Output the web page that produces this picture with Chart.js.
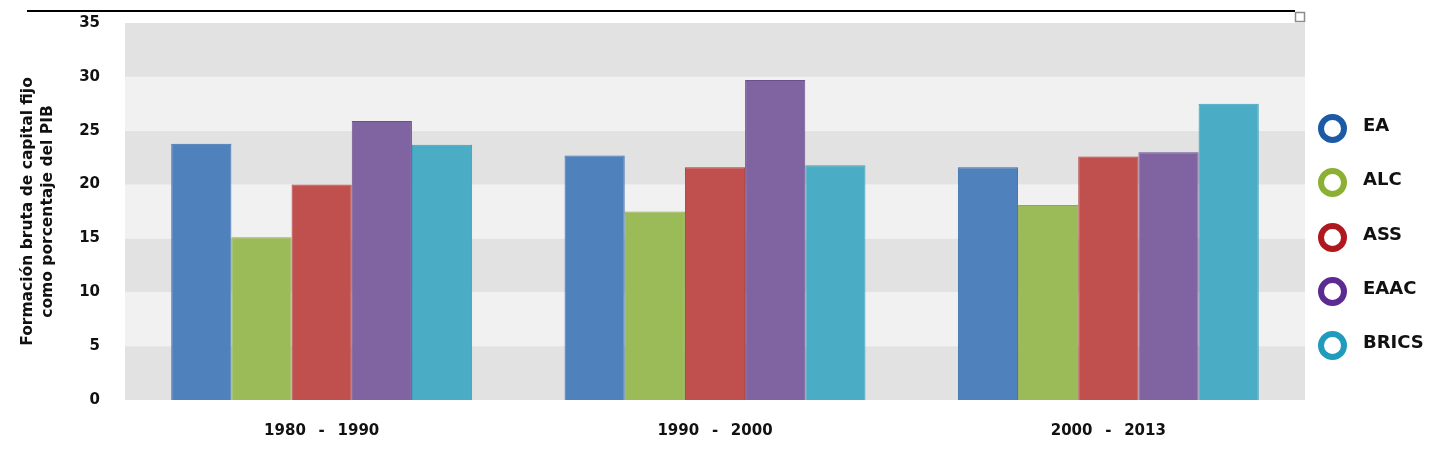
<!DOCTYPE html>
<html>
<head>
<meta charset="utf-8">
<script src="https://cdn.jsdelivr.net/npm/chart.js@4"></script>
<style>
  body { margin: 0; background: #fff; }
  #caixa { width: 1442px; height: 452px; position: relative; }
  #legenda { position: absolute; left: 1318px; top: 114px; margin: 0; padding: 0; list-style: none; }
  #legenda li { height: 54.3px; display: flex; align-items: flex-start; }
  #legenda .bola { width: 29px; height: 29px; box-sizing: border-box; border-radius: 50%; border: 6px solid; background: #fff; }
  #legenda .nome { margin-left: 16px; line-height: 29px; font: bold 18px "DejaVu Sans", sans-serif; color: #111; }
</style>
</head>
<body>
<div id="caixa">
  <canvas id="myChart"></canvas>
  <ul id="legenda"></ul>
</div>
<script>
var periodos = ['1980 - 1990', '1990 - 2000', '2000 - 2013'];
var regioes = ['EA', 'ALC', 'ASS', 'EAAC', 'BRICS'];
var valores_EA = [23.8, 22.7, 21.6];
var valores_ALC = [15.1, 17.5, 18.1];
var valores_ASS = [20.0, 21.6, 22.6];
var valores_EAAC = [25.9, 29.7, 23.0];
var valores_BRICS = [23.7, 21.8, 27.5];
var ticks_y = [0, 5, 10, 15, 20, 25, 30, 35];

var cores = ['#4f81bd', '#9bbb59', '#c0504d', '#8064a2', '#4bacc6'];
var bordas = ['#3c6fae', '#8aab47', '#ad3b38', '#6c4f91', '#37a0bd'];
var aneis = ['#1c5aa6', '#8cb034', '#b01820', '#5b2a93', '#1f9bbd'];
var series = [valores_EA, valores_ALC, valores_ASS, valores_EAAC, valores_BRICS];

var datasets = [];
for (var i = 0; i < regioes.length; i++) {
    datasets.push({
        label: regioes[i],
        data: series[i],
        backgroundColor: cores[i],
        borderColor: bordas[i],
        borderWidth: 1,
        categoryPercentage: 0.765,
        barPercentage: 1.0
    });
}

// legenda em html, do lado direito
var legenda = document.getElementById('legenda');
regioes.forEach(function (r, i) {
    legenda.innerHTML += '<li><span class="bola" style="border-color:' + aneis[i] + '"></span><span class="nome">' + r + '</span></li>';
});

// faixas cinzas do fundo + linha preta do topo
var fundo = {
    id: 'fundo',
    beforeDatasetsDraw: function (chart) {
        var ctx = chart.ctx;
        var y = chart.scales.y;
        var area = chart.chartArea;
        ctx.save();
        for (var k = 0; k < ticks_y.length - 1; k++) {
            var y0 = y.getPixelForValue(ticks_y[k]);
            var y1 = y.getPixelForValue(ticks_y[k + 1]);
            ctx.fillStyle = (k % 2 == 0) ? '#e2e2e2' : '#f1f1f1';
            ctx.fillRect(area.left, y1, area.right - area.left, y0 - y1);
        }
        ctx.restore();
    },
    afterDraw: function (chart) {
        var ctx = chart.ctx;
        ctx.save();
        ctx.strokeStyle = '#000';
        ctx.lineWidth = 2;
        ctx.beginPath();
        ctx.moveTo(27, 11);
        ctx.lineTo(1295, 11);
        ctx.stroke();
        ctx.strokeStyle = '#8c8c8c';
        ctx.lineWidth = 1.5;
        ctx.strokeRect(1295.5, 12.5, 9, 9);
        ctx.restore();
    }
};

const ctx = document.getElementById('myChart');
const grafico = new Chart(ctx, {
    type: 'bar',
    data: {
        labels: periodos,
        datasets: datasets
    },
    options: {
        responsive: true,
        maintainAspectRatio: false,
        animation: false,
        layout: {
            padding: { top: 23, left: 18, right: 137, bottom: 12 }
        },
        scales: {
            x: {
                afterFit: function (eixo) {
                    eixo.height = 40;
                },
                grid: { display: false },
                border: { display: false },
                ticks: {
                    color: '#111',
                    padding: 14,
                    font: { family: '"DejaVu Sans", sans-serif', size: 15, weight: 'bold' },
                    callback: function (v) {
                        return periodos[v].replace(' - ', '\u2002 - \u2002');
                    }
                }
            },
            y: {
                min: 0,
                max: 35,
                afterBuildTicks: function (eixo) {
                    eixo.ticks = ticks_y.map(function (v) { return { value: v }; });
                },
                afterFit: function (eixo) {
                    eixo.width = 107;
                    eixo.paddingTop = 0;
                    eixo.paddingBottom = 0;
                },
                grid: { display: false },
                border: { display: false },
                ticks: {
                    color: '#111',
                    padding: 17,
                    font: { family: '"DejaVu Sans", sans-serif', size: 15, weight: 'bold' }
                },
                title: {
                    display: true,
                    text: ['Formación bruta de capital fijo', 'como porcentaje del PIB'],
                    color: '#111',
                    padding: 0,
                    font: { family: '"DejaVu Sans", sans-serif', size: 15.5, weight: 'bold', lineHeight: 1.29 }
                }
            }
        },
        plugins: {
            legend: { display: false },
            tooltip: { enabled: false }
        }
    },
    plugins: [fundo]
});
</script>
</body>
</html>
